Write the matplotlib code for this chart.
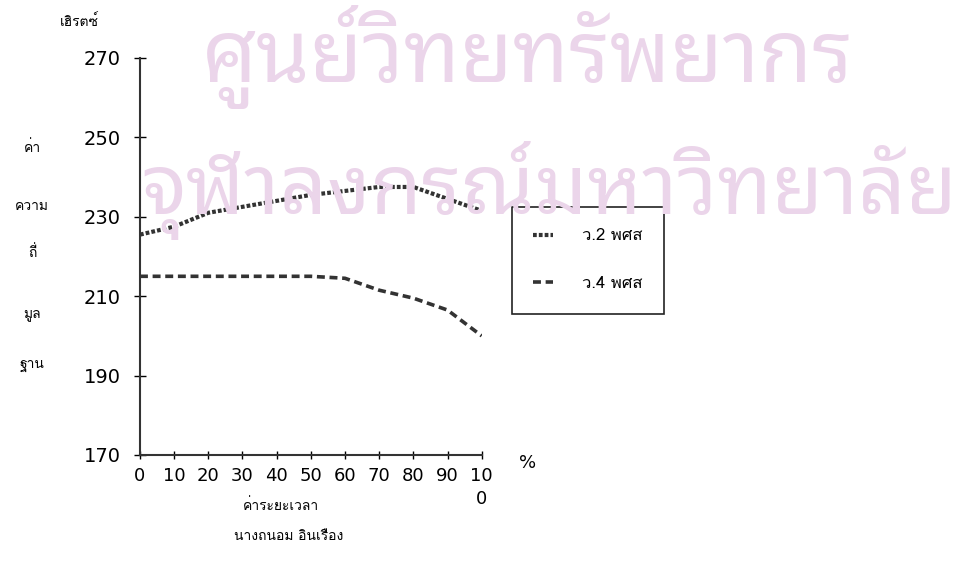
import matplotlib
matplotlib.use("Agg")
import matplotlib.pyplot as plt

# ค่าระยะเวลา (%) และค่าความถี่มูลฐาน (เฮิรตซ์)
percent = [0, 10, 20, 30, 40, 50, 60, 70, 80, 90, 100]
wor2 = [225.5, 227.5, 231, 232.5, 234, 235.5, 236.5, 237.5, 237.5, 234.5, 231.5]
wor4 = [215, 215, 215, 215, 215, 215, 214.5, 211.5, 209.5, 206.5, 200]
series_names = ["ว.2 พศส", "ว.4 พศส"]
x_ticklabels = ["0", "10", "20", "30", "40", "50", "60", "70", "80", "90", "10\n0"]
y_ticks = [170, 190, 210, 230, 250, 270]

thai_font = ["Loma", "Noto Sans Thai", "DejaVu Sans"]
plt.rcParams["font.family"] = ["DejaVu Sans", "Noto Sans Thai"]

fig = plt.figure(figsize=(9.68, 5.68), dpi=100)

# ลายน้ำ
wm_color = "#ebd5ea"
wm_font = ["Noto Sans Thai Looped", "Noto Sans Thai"]
fig.text(0.545, 0.9, "ศูนย์วิทยทรัพยากร", fontsize=62, color=wm_color,
         family=wm_font, ha="center", va="center", zorder=0)
fig.text(0.567, 0.665, "จุฬาลงกรณ์มหาวิทยาลัย", fontsize=60, color=wm_color,
         family=wm_font, ha="center", va="center", zorder=0)

ax = fig.add_axes([0.1446, 0.199, 0.353, 0.699])
ax.patch.set_alpha(0)

l1, = ax.plot(percent, wor2, color="#333333", linewidth=3.0,
              linestyle=(0, (0.9, 0.5)), label=series_names[0])
l2, = ax.plot(percent, wor4, color="#333333", linewidth=2.6,
              linestyle=(0, (2.2, 1.3)), label=series_names[1])

ax.set_xlim(0, 100)
ax.set_ylim(170, 270)
ax.set_xticks(percent)
ax.set_xticklabels(x_ticklabels, fontsize=13, linespacing=1.3)
ax.set_yticks(y_ticks)
ax.tick_params(axis="y", labelsize=14, direction="inout", length=8, width=1, pad=10)
ax.tick_params(axis="x", direction="inout", length=6, width=1, pad=6)
for side in ["top", "right"]:
    ax.spines[side].set_visible(False)
for side in ["left", "bottom"]:
    ax.spines[side].set_linewidth(1.5)
    ax.spines[side].set_color("#333333")

ax.text(1.11, -0.02, "%", transform=ax.transAxes, fontsize=13, va="center")

leg = ax.legend(handles=[l1, l2], loc="upper left", bbox_to_anchor=(1.088, 0.625),
                borderaxespad=0, frameon=True, fancybox=False, edgecolor="#222222",
                framealpha=1, prop={"family": thai_font, "size": 12},
                handlelength=1.2, borderpad=1.3, labelspacing=1.9, handletextpad=1.7)
leg.get_frame().set_linewidth(1.2)

# ป้ายแกน y แบบเรียงคำลงมา
fig.text(0.082, 0.962, "เฮิรตซ์", family=thai_font, fontsize=10, ha="center", va="center")
for word, yp in zip(["ค่า", "ความ", "ถี่", "มูล", "ฐาน"], [0.74, 0.635, 0.555, 0.445, 0.355]):
    fig.text(0.033, yp, word, family=thai_font, fontsize=10, ha="center", va="center")

fig.text(0.29, 0.11, "ค่าระยะเวลา", family=thai_font, fontsize=10, ha="center", va="center")
fig.text(0.298, 0.055, "นางถนอม อินเรือง", family=thai_font, fontsize=10, ha="center", va="center")

fig.savefig("out.png")
